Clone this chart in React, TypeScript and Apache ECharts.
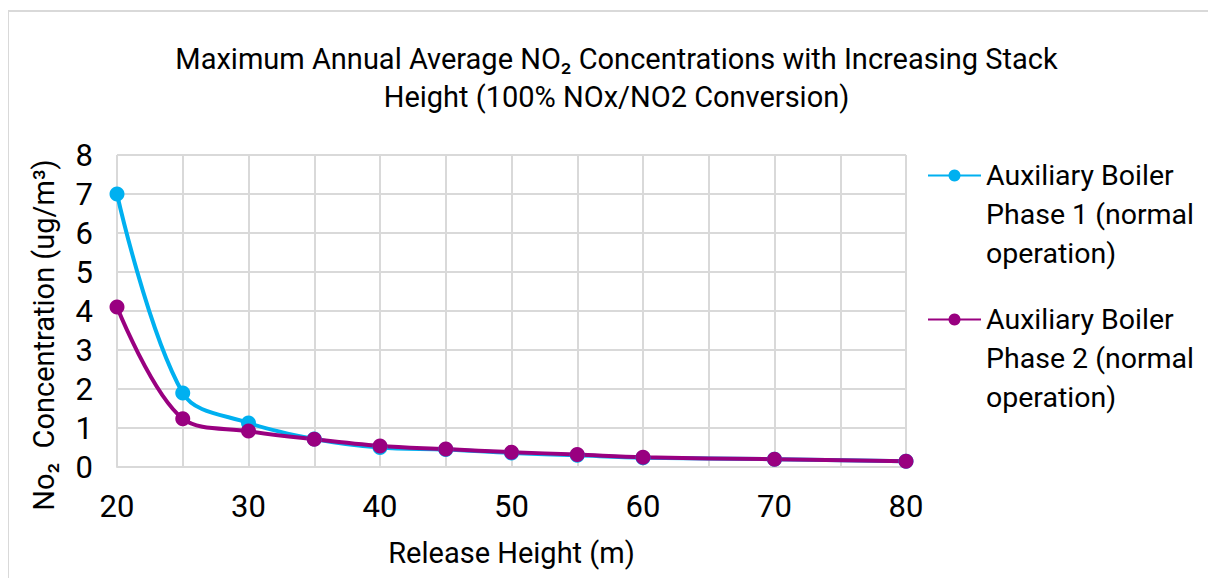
import React, { useEffect, useRef } from "react";
import * as echarts from "echarts";

const heights = [20, 25, 30, 35, 40, 45, 50, 55, 60, 70, 80];
const phase1 = [7.0, 1.9, 1.13, 0.72, 0.5, 0.45, 0.36, 0.3, 0.24, 0.2, 0.15];
const phase2 = [4.1, 1.24, 0.92, 0.71, 0.54, 0.46, 0.38, 0.32, 0.25, 0.2, 0.15];
const seriesNames = [
  "Auxiliary Boiler Phase 1 (normal operation)",
  "Auxiliary Boiler Phase 2 (normal operation)",
];
const legendLabels = [
  "Auxiliary Boiler\nPhase 1 (normal\noperation)",
  "Auxiliary Boiler\nPhase 2 (normal\noperation)",
];
const seriesColors = ["#00B0F0", "#990080"];
const titleText = "Maximum Annual Average NO₂ Concentrations with Increasing Stack\nHeight (100% NOx/NO2 Conversion)";
const yName = "No₂  Concentration (ug/m³)";
const xName = "Release Height (m)";

const FONT = "Roboto";

export default function App() {
  const ref = useRef<HTMLDivElement>(null);
  useEffect(() => {
    if (!ref.current) return;
    const chart = echarts.init(ref.current, null, { renderer: "svg" });
    const mk = (vals: number[]) => heights.map((h, i) => [h, vals[i]]);
    const legendText = (name: string) =>
      "\n\n" + (name === seriesNames[0] ? legendLabels[0] : legendLabels[1]);
    const legendCommon = {
      orient: "vertical",
      left: 913,
      itemWidth: 53,
      itemHeight: 15,
      itemGap: 0,
      formatter: legendText,
      textStyle: {
        fontFamily: FONT,
        fontSize: 28.5,
        color: "#000",
        lineHeight: 39,
      },
    };
    chart.setOption({
      animation: false,
      title: {
        text: titleText,
        left: "center",
        top: 23,
        textStyle: {
          fontFamily: FONT,
          fontSize: 29,
          fontWeight: "normal",
          color: "#000",
          lineHeight: 38,
        },
      },
      legend: [
        { ...legendCommon, data: [seriesNames[0]], top: 61 },
        { ...legendCommon, data: [seriesNames[1]], top: 205 },
      ],
      grid: { left: 108, top: 143, width: 789, height: 312, containLabel: false },
      xAxis: {
        type: "value",
        min: 20,
        max: 80,
        interval: 5,
        name: xName,
        nameLocation: "middle",
        nameGap: 71,
        nameTextStyle: { fontFamily: FONT, fontSize: 29, color: "#000" },
        axisLine: { show: true, lineStyle: { color: "#d9d9d9", width: 2 } },
        axisTick: { show: false },
        axisLabel: {
          fontFamily: FONT,
          fontSize: 31,
          color: "#000",
          margin: 24,
          formatter: (v: number) => (v % 10 === 0 ? String(v) : ""),
        },
        splitLine: { show: true, lineStyle: { color: "#d9d9d9", width: 2 } },
      },
      yAxis: {
        type: "value",
        min: 0,
        max: 8,
        interval: 1,
        axisLine: { show: false },
        axisTick: { show: false },
        axisLabel: { fontFamily: FONT, fontSize: 31, color: "#000", margin: 24 },
        splitLine: { show: true, lineStyle: { color: "#d9d9d9", width: 2 } },
      },
      graphic: [
        {
          type: "text",
          x: 35,
          y: 323,
          rotation: Math.PI / 2,
          style: {
            text: yName,
            fontFamily: FONT,
            fontSize: 29,
            fill: "#000",
            align: "center",
            verticalAlign: "middle",
          },
        },
      ],
      series: [
        {
          name: seriesNames[0],
          type: "line",
          data: mk(phase1),
          smooth: 0.35,
          symbol: "circle",
          symbolSize: 15,
          lineStyle: { color: seriesColors[0], width: 4 },
          itemStyle: { color: seriesColors[0] },
        },
        {
          name: seriesNames[1],
          type: "line",
          data: mk(phase2),
          smooth: 0.35,
          symbol: "circle",
          symbolSize: 15,
          lineStyle: { color: seriesColors[1], width: 4 },
          itemStyle: { color: seriesColors[1] },
        },
      ],
    });
    return () => chart.dispose();
  }, []);
  return (
    <div
      ref={ref}
      style={{
        width: 1215,
        height: 580,
        marginTop: 2,
        marginLeft: -1,
        border: "2px solid #d9d9d9",
      }}
    />
  );
}
